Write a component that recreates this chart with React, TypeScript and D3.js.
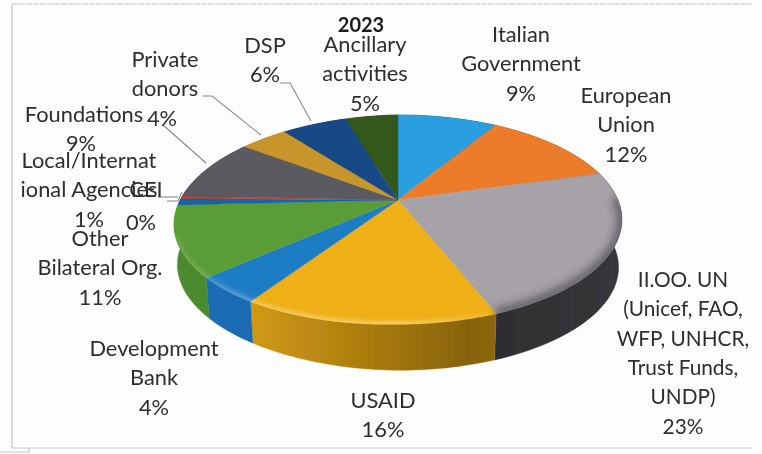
import * as d3 from 'd3';
import React from 'react';

const categories = [
	'Italian Government', 'European Union', 'II.OO. UN', 'USAID', 'Development Bank', 'Other Bilateral Org.',
	'Local/International Agencies', 'CEI', 'Foundations', 'Private donors', 'DSP', 'Ancillary activities',
];
const values = [8.6, 12, 23.4, 15.6, 4.3, 11.1, 1, 0.4, 9.4, 4.1, 5.6, 4.5];
const topColors = ['#2a9fe0', '#ed7b2b', '#a6a2a8', '#efaf13', '#1f7cc4', '#5a9c35', '#1465a8', '#c8402a', '#5a5a60', '#c8952a', '#144a85', '#33591f'];
const wallColors = ['#1d6c98', '#a5561e', '#45454a', '#d39a14', '#1a6cb4', '#4c8a2e', '#0f4a7a', '#8a2c1c', '#3e3e42', '#8a671c', '#0e3359', '#223d15'];
const labelLines = [
	['Italian', 'Government'], ['European', 'Union'],
	['II.OO. UN', '(Unicef, FAO,', 'WFP, UNHCR,', 'Trust Funds,', 'UNDP)'],
	['USAID'], ['Development', 'Bank'], ['Other', 'Bilateral Org.'],
	['Local/Internat', 'ional Agencies'], ['CEI'], ['Foundations'], ['Private', 'donors'], ['DSP'], ['Ancillary', 'activities'],
];
// center x and first baseline of each label block
const labelX = [521, 626, 683, 383, 154, 100, 89, 146, 84, 165, 265, 365];
const labelY = [42, 103, 287, 408, 356, 246, 168, 197, 122, 67, 53, 52];
const labelSize = [21.8, 21.8, 20.8, 21.8, 21.8, 21.8, 21.8, 21.8, 21.8, 21.8, 21.8, 21.8];
const percentDx = [0, 0, 0, 0, 0, 0, 0, -5, -3, -3, 0, 0];
const percentDy = [0, 0, 0, 0, 0, 0, 0, 4, 0, 0, 0, 0];

const width = 762;
const height = 454;
const cx = 398;
const cy = 200;
const rx = 220;
const ry = 101;
const persp = 0.187;
const lineH = 29.3;

// pie angle -> screen, circle seen with some perspective
const project = (a: number, dy: number, shrink: number, lean: number) => {
	const u = Math.sin(a);
	const v = -Math.cos(a);
	const w = 1 - persp * v;
	const x = (rx * shrink * u) / w;
	return [cx + x, cy + dy + (ry * shrink * v) / w + lean * Math.min(x, 0)] as [number, number];
};
const topPt = (a: number) => project(a, 0, 1, -0.022);
const botPt = (a: number) => project(a, 48, 0.985, 0.012);

const arcs = d3.pie<number>().sort(null).value((d) => d)(values);
const line = d3.line();
const steps = (a0: number, a1: number) => d3.range(0, 1.0001, 1 / 40).map((t) => a0 + (a1 - a0) * t);
const fullRing = d3.range(0, 2 * Math.PI, Math.PI / 120).map(topPt);

const App = () => {
	const lightX = d3.scaleLinear().domain([0, 1]).range([245, 620]);
	return (
		<svg width={width} height={height} style={{ position: 'absolute', left: 0, top: 0, background: '#fdfdfd' }}>
			<defs>
				<filter id="scan"><feGaussianBlur stdDeviation="0.45" /></filter>
				<filter id="soft" x="-20%" y="-20%" width="140%" height="140%"><feGaussianBlur stdDeviation="2.2" /></filter>
				<filter id="softer" x="-20%" y="-20%" width="140%" height="140%"><feGaussianBlur stdDeviation="4" /></filter>
				<linearGradient id="wallShade" gradientUnits="userSpaceOnUse" x1={lightX(0)} x2={lightX(1)} y1={0} y2={0}>
					<stop offset="0" stopColor="#000" stopOpacity="0" />
					<stop offset="0.6" stopColor="#000" stopOpacity="0.36" />
					<stop offset="1" stopColor="#000" stopOpacity="0.2" />
				</linearGradient>
				<linearGradient id="rimFade" gradientUnits="userSpaceOnUse" x1={175} x2={495} y1={0} y2={0}>
					<stop offset="0" stopColor="#fff" stopOpacity="0.12" />
					<stop offset="0.3" stopColor="#fff" stopOpacity="0.35" />
					<stop offset="0.7" stopColor="#fff" stopOpacity="0.4" />
					<stop offset="1" stopColor="#fff" stopOpacity="0.1" />
				</linearGradient>
				<clipPath id="topClip">
					<path d={`${line(fullRing)}Z`} />
				</clipPath>
			</defs>
			<g filter="url(#scan)">
				<g fill="none" stroke="#c4c4c6" strokeWidth={1.2}>
					<path d="M12,4H752" strokeDasharray="6 1" />
					<path d="M12,5V448H752" />
					<path d="M0,452H29V448" />
				</g>
				{/* side wall, back slices get covered by the top */}
				{arcs.map((d, i) => {
					const as = steps(d.startAngle, d.endAngle);
					const path = `${line([...as.map(topPt), ...as.slice().reverse().map(botPt)])}Z`;
					return (
						<g key={categories[i]}>
							<path d={path} fill={wallColors[i]} stroke={wallColors[i]} strokeWidth={0.4} />
							<path d={path} fill="url(#wallShade)" />
						</g>
					);
				})}
				{arcs.map((d, i) => {
					const pts = steps(d.startAngle, d.endAngle).map(topPt);
					return <path key={i} d={`${line([[cx, cy], ...pts])}Z`} fill={topColors[i]} stroke={topColors[i]} strokeWidth={0.4} />;
				})}
				<g clipPath="url(#topClip)">
					{/* rim highlight along the front edge */}
					<path
						d={line(steps(arcs[3].startAngle, arcs[5].endAngle - 0.3).map(topPt)) as string}
						fill="none"
						stroke="url(#rimFade)"
						strokeWidth={6}
						filter="url(#soft)"
					/>
					{/* grey slice fades into its dark wall */}
					<path
						d={line(steps(arcs[2].startAngle + 0.25, arcs[2].endAngle).map(topPt)) as string}
						fill="none"
						stroke="#2e2e32"
						strokeOpacity={0.6}
						strokeWidth={10}
						filter="url(#softer)"
					/>
				</g>
				<g fill="none" stroke="#8a8a8c" strokeWidth={1.1}>
					<path d="M280,83H290L311,121" />
					<path d="M203,96H212L261,135" />
					<path d="M163,125L206,163" />
					<path d="M158,197H178" />
					<path d="M167,201H178L182,192" />
				</g>
				<g fontFamily="Lato, 'Open Sans', sans-serif" fill="#2e2e2e" textAnchor="middle">
					<text x={361} y={32} fontWeight="bold" fontSize={20} fill="#1c1c1c">2023</text>
					{arcs.map((d, i) => {
						const lines = labelLines[i];
						return (
							<g key={categories[i]} fontSize={labelSize[i]}>
								{lines.map((t, j) => (
									<text key={j} x={labelX[i]} y={labelY[i] + j * lineH}>{t}</text>
								))}
								<text x={labelX[i] + percentDx[i]} y={labelY[i] + lines.length * lineH + percentDy[i]}>
									{`${Math.round(d.data)}%`}
								</text>
							</g>
						);
					})}
				</g>
			</g>
		</svg>
	);
};

export default App;
